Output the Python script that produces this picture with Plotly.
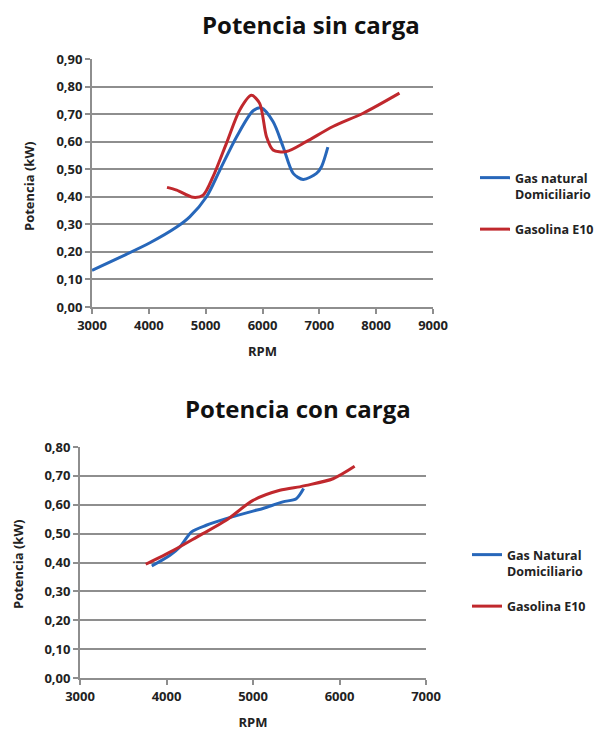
import plotly.graph_objects as go

# Top chart: Potencia sin carga
gas_sin_rpm = [3000, 3490, 4020, 4490, 4720, 5015, 5250, 5545, 5835, 5980, 6185, 6365, 6540, 6715, 6950, 7040, 7150]
gas_sin_kw = [0.133, 0.180, 0.233, 0.290, 0.327, 0.400, 0.497, 0.618, 0.712, 0.722, 0.673, 0.580, 0.485, 0.463, 0.485, 0.510, 0.580]
gasol_sin_rpm = [4320, 4490, 4780, 4955, 5130, 5365, 5600, 5805, 5950, 6070, 6185, 6420, 6770, 7240, 7770, 8410]
gasol_sin_kw = [0.434, 0.424, 0.398, 0.406, 0.473, 0.594, 0.715, 0.768, 0.739, 0.618, 0.570, 0.564, 0.600, 0.655, 0.703, 0.776]

# Bottom chart: Potencia con carga
gas_con_rpm = [3830, 4040, 4155, 4290, 4460, 4690, 5000, 5115, 5345, 5500, 5585]
gas_con_kw = [0.388, 0.425, 0.454, 0.506, 0.529, 0.552, 0.578, 0.587, 0.610, 0.621, 0.656]
gasol_con_rpm = [3760, 4080, 4385, 4690, 5000, 5310, 5540, 5615, 5925, 6175]
gasol_con_kw = [0.394, 0.442, 0.494, 0.546, 0.615, 0.650, 0.662, 0.667, 0.690, 0.733]

y_top_ticks = [0.0, 0.1, 0.2, 0.3, 0.4, 0.5, 0.6, 0.7, 0.8, 0.9]
y_bot_ticks = [0.0, 0.1, 0.2, 0.3, 0.4, 0.5, 0.6, 0.7, 0.8]
x_top_ticks = [3000, 4000, 5000, 6000, 7000, 8000, 9000]
x_bot_ticks = [3000, 4000, 5000, 6000, 7000]

BLUE = "#2767BA"
RED = "#C0282D"
GRID = "#8E8E8E"
FONT = "Open Sans"
TXT = "#222222"

# page offset of the plot div (default body margin)
OFF = 8
W, H = 607 - OFF, 736 - OFF


def fx(px):
    return (px - OFF) / W


def fy(py):
    return 1 - (py - OFF) / H


fig = go.Figure()
fig.add_trace(go.Scatter(x=gas_sin_rpm, y=gas_sin_kw, mode="lines", line=dict(color=BLUE, width=3, shape="spline", smoothing=0.8),
                         name="Gas natural<br>Domiciliario", xaxis="x", yaxis="y", legend="legend", legendgroup="a"))
fig.add_trace(go.Scatter(x=gasol_sin_rpm, y=gasol_sin_kw, mode="lines", line=dict(color=RED, width=3, shape="spline", smoothing=0.8),
                         name="Gasolina E10", xaxis="x", yaxis="y", legend="legend", legendgroup="b"))
fig.add_trace(go.Scatter(x=gas_con_rpm, y=gas_con_kw, mode="lines", line=dict(color=BLUE, width=3, shape="spline", smoothing=0.8),
                         name="Gas Natural<br>Domiciliario", xaxis="x2", yaxis="y2", legend="legend2", legendgroup="c"))
fig.add_trace(go.Scatter(x=gasol_con_rpm, y=gasol_con_kw, mode="lines", line=dict(color=RED, width=3, shape="spline", smoothing=0.8),
                         name="Gasolina E10", xaxis="x2", yaxis="y2", legend="legend2", legendgroup="d"))

tickfont = dict(family=FONT, size=13, color=TXT, weight="bold")
common_x = dict(showgrid=False, showline=True, linecolor=GRID, linewidth=2, ticks="outside", tickcolor=GRID,
                ticklen=5, tickwidth=2, tickfont=tickfont, zeroline=False,
                title=dict(text="RPM", font=dict(family=FONT, size=13, color=TXT, weight="bold"), standoff=14))
common_y = dict(showgrid=True, gridcolor=GRID, gridwidth=2, showline=True, linecolor=GRID, linewidth=2,
                ticks="outside", tickcolor=GRID, ticklen=5, tickwidth=2, tickfont=tickfont, zeroline=False,
                tickformat=".2f")

legfont = dict(family=FONT, size=12.5, color=TXT, weight="bold")
ytitle_font = dict(family=FONT, size=13, color=TXT, weight="bold")

fig.update_layout(
    width=W, height=H, margin=dict(l=0, r=0, t=0, b=0, autoexpand=False),
    paper_bgcolor="white", plot_bgcolor="white", separators=",.",
    xaxis=dict(domain=[fx(92), fx(433)], range=[3000, 9000], tickvals=x_top_ticks, anchor="y", **common_x),
    yaxis=dict(domain=[fy(307), fy(59)], range=[0, 0.9], tickvals=y_top_ticks, anchor="x", **common_y),
    xaxis2=dict(domain=[fx(80), fx(426)], range=[3000, 7000], tickvals=x_bot_ticks, anchor="y2", **common_x),
    yaxis2=dict(domain=[fy(678), fy(447)], range=[0, 0.8], tickvals=y_bot_ticks, anchor="x2", **common_y),
    legend=dict(x=fx(475), y=fy(163), xanchor="left", yanchor="top", bgcolor="rgba(0,0,0,0)",
                font=legfont, tracegroupgap=16, itemwidth=30, traceorder="grouped", valign="top"),
    legend2=dict(x=fx(467), y=fy(540), xanchor="left", yanchor="top", bgcolor="rgba(0,0,0,0)",
                 font=legfont, tracegroupgap=16, itemwidth=30, traceorder="grouped", valign="top"),
    annotations=[
        dict(text="Potencia sin carga", x=fx(311), y=fy(24), xref="paper", yref="paper", showarrow=False,
             font=dict(family=FONT, size=24, color="#111111", weight="bold"), xanchor="center", yanchor="middle"),
        dict(text="Potencia con carga", x=fx(298), y=fy(408), xref="paper", yref="paper", showarrow=False,
             font=dict(family=FONT, size=24, color="#111111", weight="bold"), xanchor="center", yanchor="middle"),
        dict(text="Potencia (kW)", x=fx(29), y=fy(187), xref="paper", yref="paper", showarrow=False,
             textangle=-90, font=ytitle_font, xanchor="center", yanchor="middle"),
        dict(text="Potencia (kW)", x=fx(18), y=fy(565), xref="paper", yref="paper", showarrow=False,
             textangle=-90, font=ytitle_font, xanchor="center", yanchor="middle"),
    ],
)

fig.write_html("out.html")
